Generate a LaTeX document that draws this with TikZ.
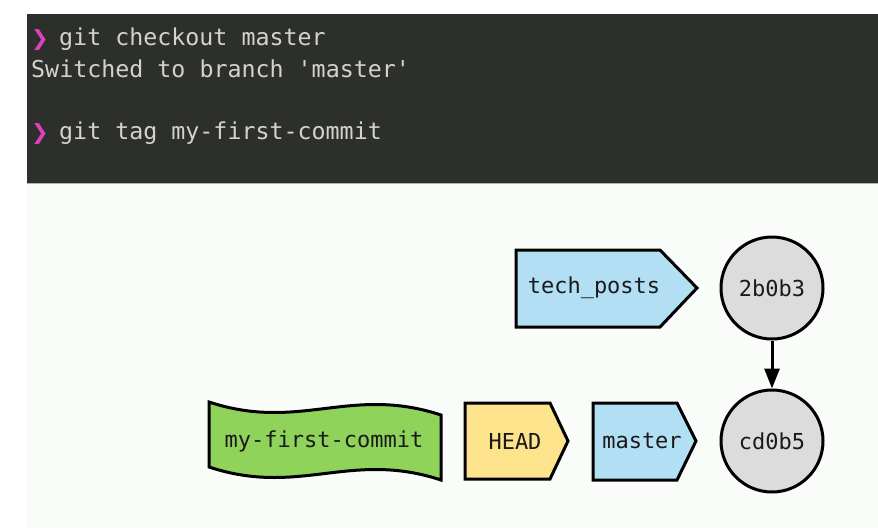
\documentclass[tikz,border=0pt]{standalone}
\usepackage{fontspec}
\setmonofont{DejaVu Sans Mono}
\newfontfamily\symfont{DejaVu Sans}
\usetikzlibrary{arrows.meta}
\definecolor{termbg}{HTML}{2C2F2B}
\definecolor{termfg}{HTML}{D2D3CE}
\definecolor{prompt}{HTML}{E040B8}
\definecolor{lowbg}{HTML}{F9FCF9}
\definecolor{branchblue}{HTML}{B3DFF4}
\definecolor{headyellow}{HTML}{FDE38C}
\definecolor{taggreen}{HTML}{8FD35A}
\definecolor{commitgray}{HTML}{DCDCDC}
\definecolor{inkc}{HTML}{1A1A1A}
\tikzset{
  termtext/.style={anchor=base west, inner sep=0pt, text=termfg, font=\ttfamily\fontsize{23.3}{28}\selectfont},
  promptmark/.style={anchor=base west, inner sep=0pt, text=prompt, font=\symfont\bfseries\fontsize{21}{24}\selectfont},
  shapeline/.style={draw=black, line width=3pt, line join=miter},
  lbl/.style={inner sep=0pt, text=inkc, font=\ttfamily\fontsize{22}{26}\selectfont},
  commit/.style={circle, draw=black, line width=3pt, fill=commitgray, minimum size=102pt, inner sep=0pt, text=inkc, font=\ttfamily\fontsize{22}{26}\selectfont},
  parentarrow/.style={draw=black, line width=3pt, -{Triangle[length=20pt,width=15pt]}}
}
\begin{document}
\begin{tikzpicture}[x=1pt,y=-1pt]
\useasboundingbox (0,0) rectangle (878,528);
\fill[white] (0,0) rectangle (878,528);
\fill[lowbg] (27,183) rectangle (878,528);
% terminal
\fill[termbg] (27,14) rectangle (878,183);
\draw[gray!60, line width=1pt] (27,183.5) -- (878,183.5);
\node[promptmark] (p1) at (31,45) {❯};
\node[termtext] (l1) at (59,45) {git checkout master};
\node[termtext] (l2) at (31,77) {Switched to branch 'master'};
\node[promptmark] (p3) at (31,139) {❯};
\node[termtext] (l3) at (59,139) {git tag my-first-commit};
% tech_posts branch
\path[shapeline, fill=branchblue] (516,250) -- (660,250) -- (697,288) -- (660,327) -- (516,327) -- cycle;
\node[lbl] (techposts) at (594,288) {tech\_posts};
% HEAD
\path[shapeline, fill=headyellow] (465,403) -- (550,403) -- (568,441) -- (550,479) -- (465,479) -- cycle;
\node[lbl] (head) at (515,441) {HEAD};
% master
\path[shapeline, fill=branchblue] (593,403) -- (677,403) -- (696,441) -- (677,480) -- (593,480) -- cycle;
\node[lbl] (master) at (642,441) {master};
% tag
\path[shapeline, fill=taggreen] (209,402) .. controls (300,432) and (350,385) .. (441,415)
  -- (441,480) .. controls (350,450) and (300,497) .. (209,467) -- cycle;
\node[lbl] (tag) at (324,441) {my-first-commit};
% commits
\node[commit] (c1) at (772,288) {2b0b3};
\node[commit] (c2) at (772,441) {cd0b5};
\draw[parentarrow] (c1) -- (c2);
\end{tikzpicture}
\end{document}
